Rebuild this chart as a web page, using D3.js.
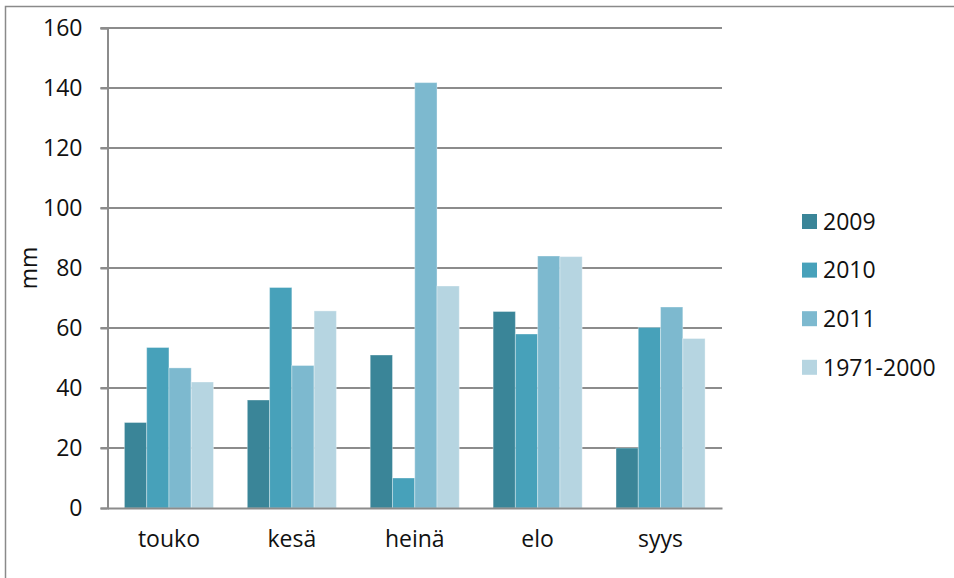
<!DOCTYPE html>
<html>
<head>
<meta charset="utf-8">
<script src="https://cdn.jsdelivr.net/npm/d3@7"></script>
<style>
  body { margin: 0; background: #fff; }
  text { font-family: "Open Sans", sans-serif; fill: #111; }
</style>
</head>
<body>
<div id="chart"></div>
<script>
// monthly rainfall, mm
const months = ["touko", "kesä", "heinä", "elo", "syys"];
const seriesNames = ["2009", "2010", "2011", "1971-2000"];
const v2009 = [28.5, 36, 51, 65.5, 20];
const v2010 = [53.5, 73.5, 10, 58, 60.2];
const v2011 = [46.7, 47.5, 141.8, 84, 67];
const vNormal = [42, 65.7, 74, 83.8, 56.5];
const yTicks = [0, 20, 40, 60, 80, 100, 120, 140, 160];

const colors = ["#3a8598", "#47a1ba", "#7db9cf", "#b6d5e1"];
const allValues = [v2009, v2010, v2011, vNormal];

const W = 954, H = 578;
const margin = { top: 28, right: 232, bottom: 70, left: 107.5 };
const width = W - margin.left - margin.right;
const height = H - margin.top - margin.bottom;
const fontSize = "23px";

const svg = d3.select("#chart").append("svg")
    .attr("width", W)
    .attr("height", H);

// outer frame
svg.append("rect")
    .attr("x", 5.5).attr("y", 6.5)
    .attr("width", W).attr("height", H)
    .attr("fill", "none")
    .attr("stroke", "#8a8a8a")
    .attr("stroke-width", 1.5);

const g = svg.append("g")
    .attr("transform", `translate(${margin.left},${margin.top})`);

const x0 = d3.scaleBand().domain(months).range([0, width]);
const x1 = d3.scaleBand().domain(seriesNames).range([0, x0.bandwidth()])
    .paddingInner(0).paddingOuter(0.76);
const y = d3.scaleLinear().domain([0, 160]).range([height, 0]);

// gridlines
g.append("g").selectAll("line")
    .data(yTicks.filter(d => d > 0))
    .enter().append("line")
    .attr("x1", -7).attr("x2", width)
    .attr("y1", d => y(d)).attr("y2", d => y(d))
    .attr("stroke", "#8c8c8c")
    .attr("stroke-width", 2);

// y axis
const yAxis = g.append("g")
    .call(d3.axisLeft(y).tickValues(yTicks).tickSize(7).tickPadding(18));
yAxis.select(".domain").attr("stroke", "#8c8c8c").attr("stroke-width", 2);
yAxis.selectAll(".tick line").attr("stroke", "#8c8c8c").attr("stroke-width", 2);
yAxis.selectAll(".tick text")
    .style("font-family", "'Open Sans', sans-serif")
    .style("font-size", fontSize)
    .attr("fill", "#111");

// bars
const groups = g.selectAll(".month")
    .data(months)
    .enter().append("g")
    .attr("transform", d => `translate(${x0(d)},0)`);

groups.selectAll("rect")
    .data((m, i) => seriesNames.map((s, j) => ({ s: s, v: allValues[j][i], c: colors[j] })))
    .enter().append("rect")
    .attr("x", d => x1(d.s))
    .attr("y", d => y(d.v))
    .attr("width", x1.bandwidth())
    .attr("height", d => height - y(d.v))
    .attr("fill", d => d.c)
    .attr("stroke", "#ffffff")
    .attr("stroke-opacity", 0.35)
    .attr("stroke-width", 1);

// x axis
const xAxis = g.append("g")
    .attr("transform", `translate(0,${height})`)
    .call(d3.axisBottom(x0).tickSize(0).tickPadding(23));
xAxis.select(".domain").attr("stroke", "#8c8c8c").attr("stroke-width", 2);
xAxis.selectAll(".tick text")
    .style("font-family", "'Open Sans', sans-serif")
    .style("font-size", fontSize)
    .attr("fill", "#111");

// y axis title
svg.append("text")
    .attr("transform", `translate(37,${margin.top + height / 2}) rotate(-90)`)
    .attr("text-anchor", "middle")
    .style("font-size", fontSize)
    .text("mm");

// legend
const legend = svg.append("g").attr("transform", "translate(802,214)");
const item = legend.selectAll("g")
    .data(seriesNames)
    .enter().append("g")
    .attr("transform", (d, i) => `translate(0,${i * 48.6})`);
item.append("rect")
    .attr("width", 15).attr("height", 15)
    .attr("fill", (d, i) => colors[i]);
item.append("text")
    .attr("x", 21).attr("y", 7.5)
    .attr("dy", "0.36em")
    .style("font-size", fontSize)
    .text(d => d);
</script>
</body>
</html>
